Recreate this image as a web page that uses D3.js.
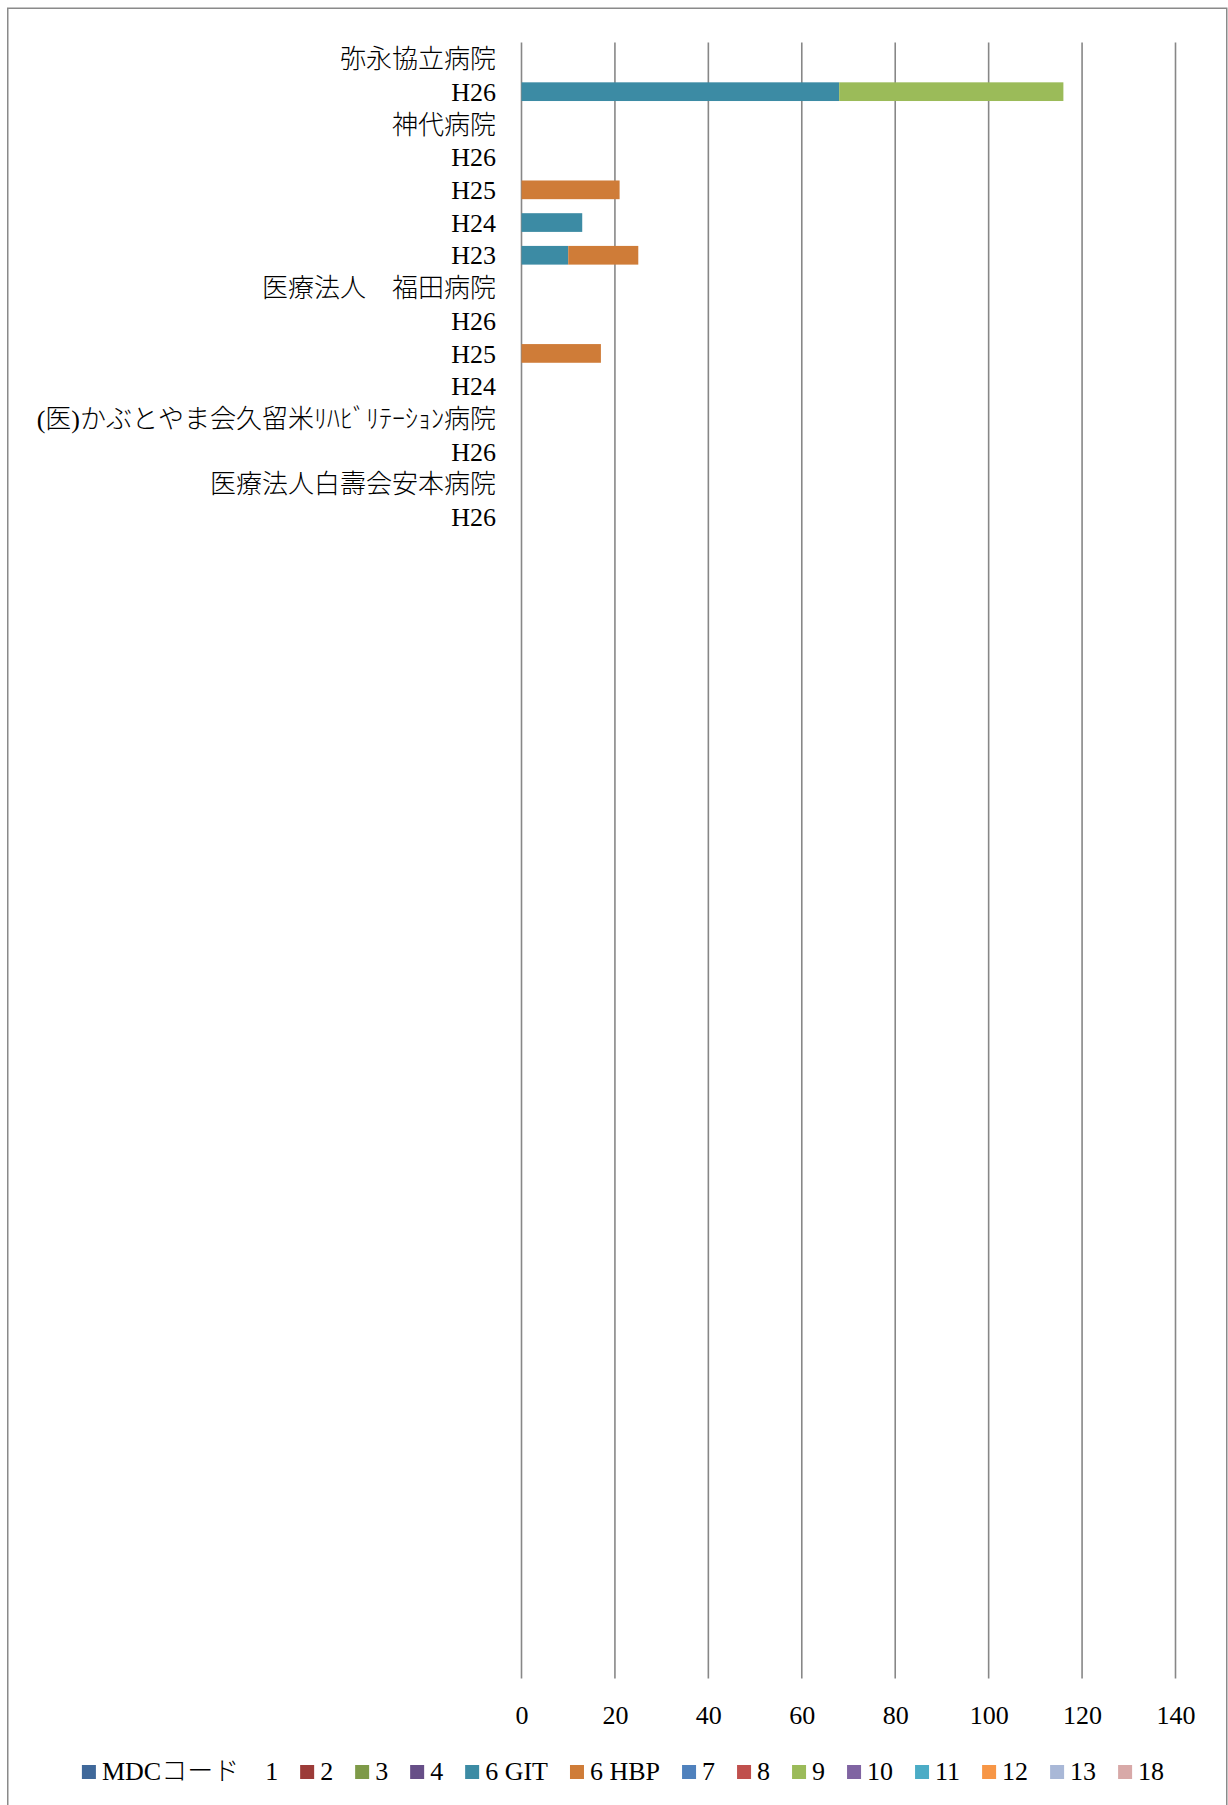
<!DOCTYPE html>
<html>
<head>
<meta charset="utf-8">
<script src="https://cdn.jsdelivr.net/npm/d3@7"></script>
<style>
  html, body { margin: 0; padding: 0; background: #ffffff; }
  svg { display: block; }
  text { font-family: "Liberation Serif", "Noto Sans CJK JP", serif; fill: #000; font-weight: 300; }
</style>
</head>
<body>
<svg id="chart" width="1228" height="1805"></svg>
<script>
// ---- data ----
const categoryLabels = [
  "弥永協立病院", "H26",
  "神代病院", "H26", "H25", "H24", "H23",
  "医療法人　福田病院", "H26", "H25", "H24",
  "(医)かぶとやま会久留米ﾘﾊﾋﾞﾘﾃｰｼｮﾝ病院", "H26",
  "医療法人白壽会安本病院", "H26"
];
const blankRowCount = 35;

const seriesNames = ["MDCコード　1", "2", "3", "4", "6 GIT", "6 HBP", "7", "8", "9", "10", "11", "12", "13", "18"];
const seriesColors = ["#3f689a", "#9c3b38", "#7e9a48", "#664e87", "#3c8ba4", "#cf7c38", "#4f81bd", "#c0504d", "#9bbb59", "#8064a2", "#4bacc6", "#f79646", "#a9b8d7", "#d8a9a8"];

const mdc1  = [0,0,0,0,0,0,0,0,0,0,0,0,0,0,0];
const mdc2  = [0,0,0,0,0,0,0,0,0,0,0,0,0,0,0];
const mdc3  = [0,0,0,0,0,0,0,0,0,0,0,0,0,0,0];
const mdc4  = [0,0,0,0,0,0,0,0,0,0,0,0,0,0,0];
const mdc6git = [0,68,0,0,0,13,10,0,0,0,0,0,0,0,0];
const mdc6hbp = [0,0,0,0,21,0,15,0,0,17,0,0,0,0,0];
const mdc7  = [0,0,0,0,0,0,0,0,0,0,0,0,0,0,0];
const mdc8  = [0,0,0,0,0,0,0,0,0,0,0,0,0,0,0];
const mdc9  = [0,48,0,0,0,0,0,0,0,0,0,0,0,0,0];
const mdc10 = [0,0,0,0,0,0,0,0,0,0,0,0,0,0,0];
const mdc11 = [0,0,0,0,0,0,0,0,0,0,0,0,0,0,0];
const mdc12 = [0,0,0,0,0,0,0,0,0,0,0,0,0,0,0];
const mdc13 = [0,0,0,0,0,0,0,0,0,0,0,0,0,0,0];
const mdc18 = [0,0,0,0,0,0,0,0,0,0,0,0,0,0,0];
const seriesValues = [mdc1, mdc2, mdc3, mdc4, mdc6git, mdc6hbp, mdc7, mdc8, mdc9, mdc10, mdc11, mdc12, mdc13, mdc18];

const xTicks = [0, 20, 40, 60, 80, 100, 120, 140];

// ---- build table ----
const totalRows = categoryLabels.length + blankRowCount;
const rows = d3.range(totalRows).map(i => {
  const r = { idx: i, label: i < categoryLabels.length ? categoryLabels[i] : "" };
  seriesNames.forEach((s, k) => { r[s] = i < categoryLabels.length ? seriesValues[k][i] : 0; });
  return r;
});

const svg = d3.select("#chart");
const FONT = "\"Liberation Serif\", \"Noto Sans CJK JP\", serif";

// outer border
svg.append("rect")
  .attr("x", 7.75).attr("y", 8.25)
  .attr("width", 1219).attr("height", 1805)
  .attr("fill", "none").attr("stroke", "#8a8a8a").attr("stroke-width", 1.5);

const plotTop = 42.6, plotBottom = 1678.5;
const x = d3.scaleLinear().domain([0, 140]).range([521.5, 1175.5]);
const y = d3.scaleBand().domain(rows.map(r => r.idx)).range([plotTop, plotBottom]).paddingInner(0).paddingOuter(0);
const barH = y.bandwidth() / 1.75;

// gridlines
svg.append("g").selectAll("line").data(xTicks).join("line")
  .attr("x1", d => x(d)).attr("x2", d => x(d))
  .attr("y1", plotTop).attr("y2", plotBottom)
  .attr("stroke", "#878787").attr("stroke-width", 1.6);

// stacked bars
const stack = d3.stack().keys(seriesNames);
const stacked = stack(rows);
const color = d3.scaleOrdinal().domain(seriesNames).range(seriesColors);

svg.append("g").selectAll("g").data(stacked).join("g")
  .attr("fill", d => color(d.key))
  .selectAll("rect").data(d => d.filter(p => p[1] - p[0] > 0)).join("rect")
  .attr("x", p => x(p[0]))
  .attr("width", p => x(p[1]) - x(p[0]))
  .attr("y", p => y(p.data.idx) + (y.bandwidth() - barH) / 2)
  .attr("height", barH);

// y-axis labels
const yAxis = d3.axisLeft(y).tickSize(0).tickPadding(0).tickFormat(i => rows[i].label);
const gy = svg.append("g").attr("transform", "translate(496,0)").call(yAxis);
gy.select(".domain").remove();
gy.selectAll("text").attr("font-size", 26).attr("font-family", FONT).attr("font-weight", 300).attr("fill", "#000").attr("dy", "0.35em");

// x-axis labels
const xAxis = d3.axisBottom(x).tickValues(xTicks).tickSize(0).tickPadding(0).tickFormat(d3.format("d"));
const gx = svg.append("g").attr("transform", "translate(0,1715)").call(xAxis);
gx.select(".domain").remove();
gx.selectAll("text").attr("font-size", 26).attr("font-family", FONT).attr("font-weight", 300).attr("fill", "#000").attr("dy", "0.35em").attr("y", 0);

// legend
const markerToText = 6, itemGap = 22;
const legend = svg.append("g");
const items = legend.selectAll("g").data(seriesNames).join("g");
items.append("rect").attr("width", 14).attr("height", 14).attr("y", -6).attr("fill", d => color(d));
items.append("text").attr("x", 14 + markerToText).attr("dy", "0.35em").attr("font-size", 26).text(d => d);
let cx = 0;
items.each(function() {
  const g = d3.select(this);
  const w = g.select("text").node().getComputedTextLength();
  g.attr("transform", `translate(${cx},0)`);
  cx += 14 + markerToText + w + itemGap;
});
const legendW = cx - itemGap;
legend.attr("transform", `translate(${623 - legendW / 2},1771)`);
</script>
</body>
</html>
